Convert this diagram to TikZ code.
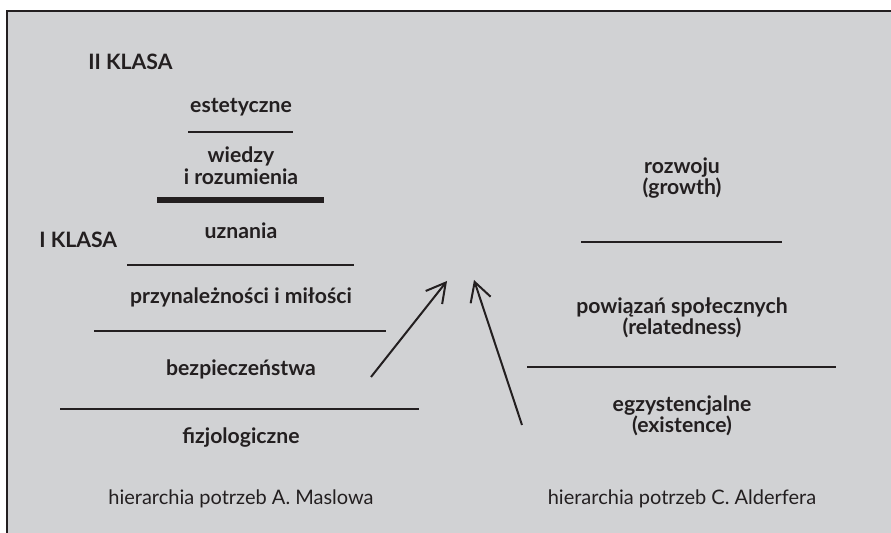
\documentclass[tikz,border=0pt]{standalone}
\usepackage{fontspec}
\setmainfont{Lato}
\usetikzlibrary{arrows.meta}

\begin{document}
\begin{tikzpicture}[
  x=0.5pt, y=-0.5pt,
  level/.style={
    text=cInk, align=center, inner sep=0pt,
    font=\bfseries\fontsize{10.6}{10.8}\selectfont
  },
  klasa/.style={level, anchor=base west},
  caption/.style={
    text=cInk, inner sep=0pt, anchor=base,
    font=\fontsize{10}{12}\selectfont
  },
  sep/.style={draw=cInk, line width=0.7pt},
  heavysep/.style={draw=cInk, line width=2.6pt},
  growth/.style={
    draw=cInk, line width=1pt,
    -{Straight Barb[length=9.5pt, width=10.5pt, line width=1pt]}
  }
]

  % Colors
  \definecolor{cPaper}{RGB}{209,210,212}  % Gray panel
  \definecolor{cInk}{RGB}{35,31,32}       % Near black

  \useasboundingbox (0,0) rectangle (891,533);

  % --- PANEL ---
  \fill[cPaper] (7,11) rectangle (891,533);
  \draw[cInk, line width=0.8pt] (891,11) -- (7,11) -- (7,533);

  % --- MASLOW (left pyramid) ---
  \node[klasa] (klasa2) at (88,70) {II KLASA};
  \node[klasa] (klasa1) at (39,248) {I KLASA};

  \node[level, anchor=base] (estet) at (241,113) {estetyczne};
  \node[level] (wiedzy) at (241,166) {wiedzy\\i rozumienia};
  \node[level, anchor=base] (uznania) at (241,239) {uznania};
  \node[level, anchor=base] (przyn) at (241,304) {przynależności i miłości};
  \node[level, anchor=base] (bezp) at (241,376) {bezpieczeństwa};
  \node[level, anchor=base] (fizjo) at (241,444) {fizjologiczne};

  \draw[sep] (188,132) -- (293,132);
  \draw[heavysep] (157,200) -- (324,200);
  \draw[sep] (127,265) -- (354,265);
  \draw[sep] (94,331) -- (386,331);
  \draw[sep] (60,409) -- (419,409);

  \node[caption] (maslow) at (241,505) {hierarchia potrzeb A. Maslowa};

  % --- ALDERFER (right pyramid) ---
  \node[level] (rozwoj) at (682,178) {rozwoju\\(growth)};
  \node[level] (powiaz) at (682,318) {powiązań społecznych\\(relatedness)};
  \node[level] (egzyst) at (682,416) {egzystencjalne\\(existence)};

  \draw[sep] (581,242) -- (782,242);
  \draw[sep] (527,367) -- (836,367);

  \node[caption] (alderfer) at (682,505) {hierarchia potrzeb C. Alderfera};

  % --- ARROWS ---
  \coordinate (m-from) at (371,377);
  \coordinate (m-to) at (447,281);
  \coordinate (a-from) at (522,425);
  \coordinate (a-to) at (474,280);
  \draw[growth] (m-from) -- (m-to);
  \draw[growth] (a-from) -- (a-to);

\end{tikzpicture}
\end{document}
